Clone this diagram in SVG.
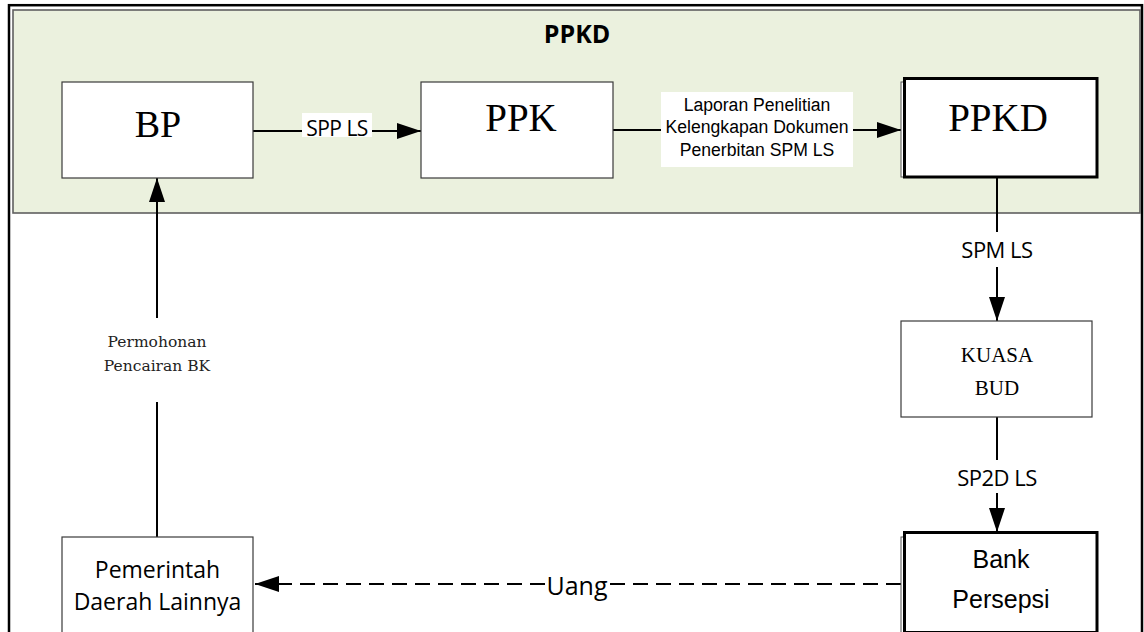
<svg xmlns="http://www.w3.org/2000/svg" width="1144" height="632" viewBox="0 0 1144 632">
<style>
.box{fill:#fff;stroke:#3a3a3a;stroke-width:1.2}
.thick{fill:#fff;stroke:#000;stroke-width:3}
.thin{fill:#fff;stroke:#555;stroke-width:1}
.ser{font-family:"Liberation Serif","Times New Roman",serif;fill:#000;text-anchor:middle}
.ser2{font-family:"DejaVu Serif",serif;fill:#222;text-anchor:middle}
.cal{font-family:"Open Sans","Liberation Sans",sans-serif;fill:#000;text-anchor:middle}
.ari{font-family:"Liberation Sans",Arial,sans-serif;fill:#000;text-anchor:middle}
.con{fill:none;stroke:#000;stroke-width:2}
.dash{stroke-dasharray:15 8}
</style>
<defs>
<marker id="ah" markerUnits="userSpaceOnUse" markerWidth="25" markerHeight="16" refX="24" refY="8" orient="auto">
<path d="M0,0 L24,8 L0,16 z" fill="#000"/>
</marker>
</defs>
<rect width="1144" height="632" fill="#fff"/>
<rect x="9" y="5.2" width="1133" height="640" fill="none" stroke="#000" stroke-width="2.5"/>
<g id="ppkd-group">
<rect x="13" y="10" width="1127" height="203" fill="#EBF1DE" stroke="#606060" stroke-width="1.6"/>
<text class="cal" x="577" y="43" font-size="25" font-weight="bold">PPKD</text>
</g>
<g id="connectors">
<path class="con" d="M253,131 L421,131" marker-end="url(#ah)"/>
<rect x="302" y="113" width="70" height="24" fill="#fff"/>
<text class="cal" x="337" y="136" font-size="21" letter-spacing="-0.5">SPP LS</text>
<path class="con" d="M613,130 L901,130" marker-end="url(#ah)"/>
<rect x="661" y="92" width="192" height="75" fill="#fff"/>
<text class="ari" font-size="17.6"><tspan x="757" y="110.7">Laporan Penelitian</tspan><tspan x="757" y="133">Kelengkapan Dokumen</tspan><tspan x="757" y="155.5">Penerbitan SPM LS</tspan></text>
<path class="con" d="M997,177 L997,232 M997,267 L997,321" marker-end="url(#ah)"/>
<text class="cal" x="997" y="257.7" font-size="22" letter-spacing="-0.5">SPM LS</text>
<path class="con" d="M997,417 L997,460 M997,493 L997,532" marker-end="url(#ah)"/>
<text class="cal" x="997" y="485.7" font-size="22" letter-spacing="-0.5">SP2D LS</text>
<path class="con dash" d="M901,584 L610,584 M545,584 L255,584" marker-end="url(#ah)"/>
<text class="cal" x="577" y="595" font-size="25">Uang</text>
<path class="con" d="M157,537 L157,402 M157,318 L157,178" marker-end="url(#ah)"/>
<text class="ser2" font-size="15.5"><tspan x="157" y="347">Permohonan</tspan><tspan x="157" y="371">Pencairan BK</tspan></text>
</g>
<g id="bp">
<rect class="box" x="62" y="82" width="191" height="96"/>
<text class="ser" x="158" y="137" font-size="38">BP</text>
</g>
<g id="ppk">
<rect class="box" x="421" y="82" width="192" height="96"/>
<text class="ser" x="521" y="131" font-size="39">PPK</text>
</g>
<g id="ppkd">
<rect class="thin" x="901" y="82" width="193" height="95"/>
<rect class="thick" x="904.5" y="78.5" width="192.5" height="98.5"/>
<text class="ser" x="998" y="130.7" font-size="39">PPKD</text>
</g>
<g id="kuasa-bud">
<rect class="box" x="901" y="321" width="191" height="96"/>
<text class="ser" font-size="21"><tspan x="997" y="362">KUASA</tspan><tspan x="997" y="395">BUD</tspan></text>
</g>
<g id="bank-persepsi">
<rect class="thin" x="901" y="537" width="193" height="100"/>
<rect class="thick" x="904.5" y="532.5" width="192.5" height="100"/>
<text class="ari" font-size="25"><tspan x="1001" y="567.7">Bank</tspan><tspan x="1001" y="607.7">Persepsi</tspan></text>
</g>
<g id="pemerintah">
<rect class="box" x="62" y="537" width="191" height="100"/>
<text class="cal" font-size="23"><tspan x="157.5" y="578">Pemerintah</tspan><tspan x="157.5" y="610">Daerah Lainnya</tspan></text>
</g>
</svg>
